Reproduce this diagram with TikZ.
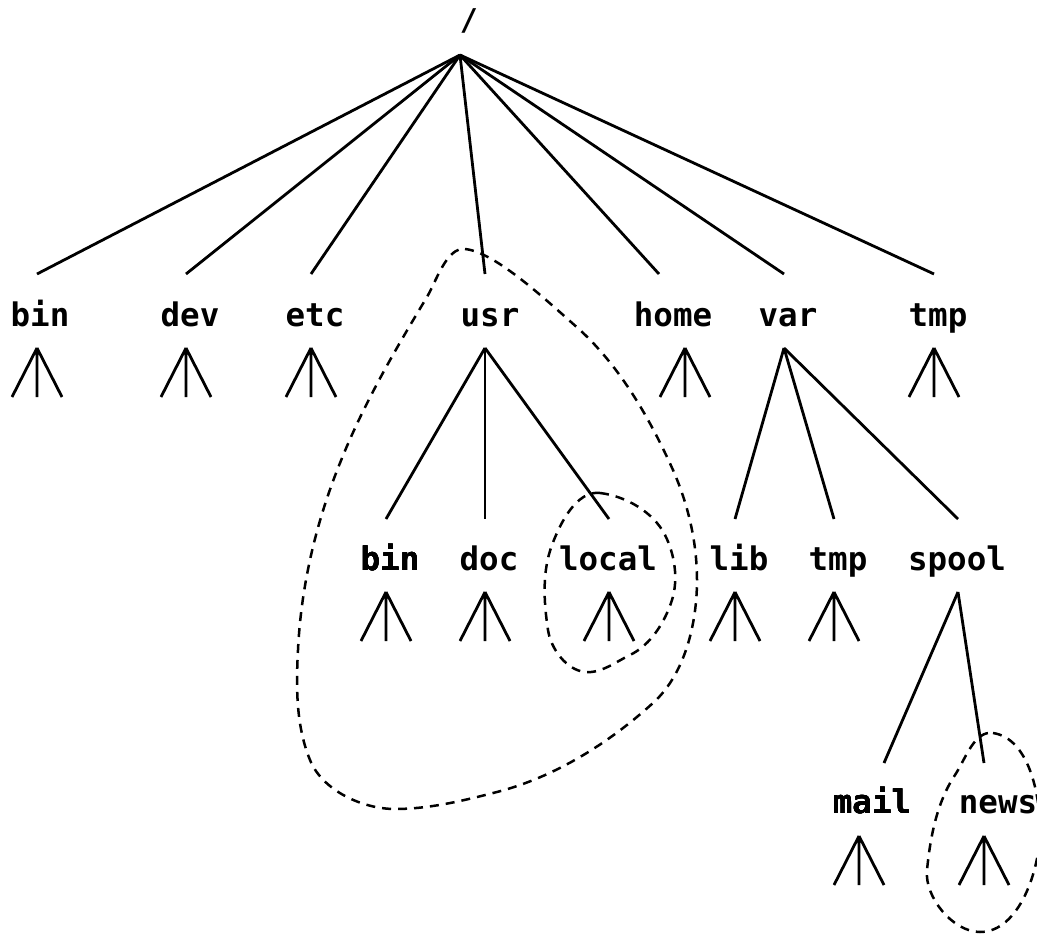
\documentclass[tikz,border=0pt]{standalone}
\usepackage{fontspec}
\newfontfamily\dmono{DejaVu Sans Mono}
\newcommand\mysubtree[1]{\draw (#1) -- ++(-25,49) (#1) -- ++(0,49) (#1) -- ++(25,49);}
\begin{document}
\begin{tikzpicture}[x=1pt,y=-1pt,line width=2.8pt,
  lbl/.style={font=\dmono\bfseries\fontsize{32.5}{38}\selectfont,anchor=base,inner sep=0pt},
  slashlbl/.style={font=\dmono\bfseries\fontsize{30}{36}\selectfont,anchor=center,inner sep=0pt},
  link/.style={line cap=butt},
  hull/.style={dash pattern=on 9pt off 7pt,line width=2.5pt}]
\useasboundingbox (0,0) rectangle (1037,934);
\clip (0,0) rectangle (1037,934);
% root
\node[slashlbl] (slash) at (469,21) {/};
\coordinate (root) at (460,55);
% level 1 labels
\node[lbl] (bin)  at (40,326)  {bin};
\node[lbl] (dev)  at (190,326) {dev};
\node[lbl] (etc)  at (315,326) {etc};
\node[lbl] (usr)  at (490,326) {usr};
\node[lbl] (home) at (673,326) {home};
\node[lbl] (var)  at (788,326) {var};
\node[lbl] (tmp)  at (938,326) {tmp};
% level 1 top ends and apexes
\foreach \n/\x in {bin/37,dev/186,etc/311,usr/485,home/659,var/784,tmp/934}
  \coordinate (\n-t) at (\x,274);
\foreach \n/\x in {bin/37,dev/186,etc/311,usr/485,home/685,var/784,tmp/934}
  \coordinate (\n-a) at (\x,348);
\foreach \n in {bin,dev,etc,usr,home,var,tmp}
  \draw[link] (root) -- (\n-t);
\foreach \n in {bin,dev,etc,home,tmp}
  \mysubtree{\n-a}
% level 2
\node[lbl] (ubin)  at (390,570) {bin};
\node[lbl] (doc)   at (489,570) {doc};
\node[lbl] (local) at (608,570) {local};
\node[lbl] (lib)   at (739,570) {lib};
\node[lbl] (vtmp)  at (838,570) {tmp};
\node[lbl] (spool) at (957,570) {spool};
\foreach \n/\x in {ubin/386,doc/485,local/609,lib/735,vtmp/834,spool/958}{
  \coordinate (\n-t) at (\x,519);
  \coordinate (\n-a) at (\x,592);}
\foreach \n in {ubin,doc,local} \draw[link] (usr-a) -- (\n-t);
\foreach \n in {lib,vtmp,spool} \draw[link] (var-a) -- (\n-t);
\foreach \n in {ubin,doc,local,lib,vtmp} \mysubtree{\n-a}
% level 3
\node[lbl] (mail) at (872,813) {mail};
\node[lbl] (news) at (998,813) {news};
\coordinate (mail-t) at (884,763);
\coordinate (news-t) at (984,763);
\coordinate (mail-a) at (859,836);
\coordinate (news-a) at (984,836);
\draw[link] (spool-a) -- (mail-t);
\draw[link] (spool-a) -- (news-t);
\mysubtree{mail-a}
\mysubtree{news-a}
% dashed region round usr
\draw[hull] (465,249)
  .. controls (495,252) and (545,299) .. (580,330)
  .. controls (621,368) and (650,419) .. (673,470)
  .. controls (688,504) and (697,542) .. (697,580)
  .. controls (697,623.5) and (685,674) .. (653,703)
  .. controls (609,743) and (555,777) .. (497,792)
  .. controls (463.5,800.6) and (429.5,809) .. (395,809)
  .. controls (362,809) and (322,790) .. (310,760)
  .. controls (296,726) and (296,687) .. (298,650)
  .. controls (301,586) and (316,522.5) .. (340,463)
  .. controls (363,405) and (395,350) .. (427,297)
  .. controls (437,279.5) and (447,247) .. (465,249) -- cycle;
% dashed region round local
\draw[hull] (600,493)
  .. controls (625.6,496) and (653.4,512) .. (665,535)
  .. controls (674.8,554.4) and (678.5,579.3) .. (672,600)
  .. controls (665,622) and (650.7,645) .. (630,655)
  .. controls (615.6,662) and (601,673.6) .. (585,672)
  .. controls (566.3,670) and (550.8,648.7) .. (548,630)
  .. controls (543.7,601.6) and (542,571.7) .. (552,545)
  .. controls (560.3,522.8) and (576.6,490.2) .. (600,493) -- cycle;
% dashed region round news
\draw[hull] (993,733)
  .. controls (1028.6,738.3) and (1040,794) .. (1040,830)
  .. controls (1040,869.4) and (1019.4,932) .. (980,932)
  .. controls (952.8,932) and (924.3,897) .. (927,870)
  .. controls (930.3,837) and (936.8,802.4) .. (955,775)
  .. controls (965.4,759.3) and (974.3,730.2) .. (993,733) -- cycle;
\end{tikzpicture}
\end{document}
